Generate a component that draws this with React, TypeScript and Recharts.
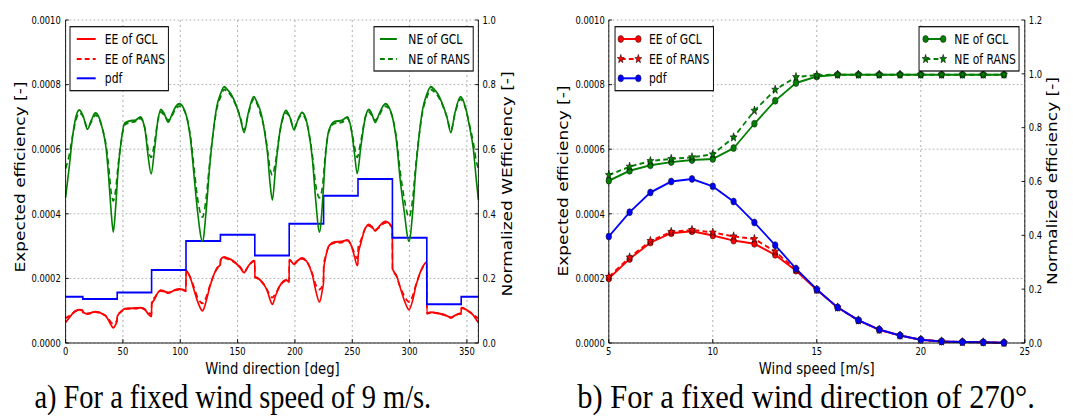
import React from "react";
import { CartesianGrid, Line, LineChart, XAxis, YAxis } from "recharts";

// ---- a) sweep over wind direction at 9 m/s ----
// EE values are in units of 1e-4, NE is normalized [0..1]

const DIR_TICKS = [0, 50, 100, 150, 200, 250, 300, 350];

const NE_GCL_DIR: [number, number][] = [
  [0, 0.45], [3, 0.54], [6.5, 0.65], [9, 0.7], [12, 0.721], [15.5, 0.7], [19, 0.662],
  [22.5, 0.69], [26, 0.712], [29, 0.7], [32, 0.665], [35.4, 0.6], [37.5, 0.516],
  [39.6, 0.413], [41.6, 0.344], [43.5, 0.413], [45.8, 0.536], [48.6, 0.629], [51.4, 0.68],
  [55.6, 0.687], [61, 0.69], [65.5, 0.7], [68, 0.68], [69.5, 0.655], [72, 0.577],
  [74.6, 0.524], [77.5, 0.598], [80.5, 0.69], [83, 0.723], [86, 0.71], [89.5, 0.684],
  [93, 0.71], [96, 0.732], [99.2, 0.741], [102.5, 0.73], [105.6, 0.7], [109.3, 0.62],
  [112.1, 0.515], [115, 0.41], [119.4, 0.315], [122.6, 0.41], [125.4, 0.536], [128.3, 0.64],
  [131.9, 0.733], [135, 0.77], [138.3, 0.793], [141, 0.785], [144.4, 0.77], [148, 0.743],
  [152.3, 0.696], [155.7, 0.652], [159.3, 0.712], [164.1, 0.762], [167, 0.745], [170.6, 0.71],
  [173.5, 0.655], [176, 0.59], [178.3, 0.494], [180.3, 0.443], [183, 0.536], [186.7, 0.65],
  [189.5, 0.7], [192.2, 0.72], [195.5, 0.7], [199.2, 0.66], [202.5, 0.69], [206.1, 0.714],
  [209, 0.7], [211.7, 0.66], [215.3, 0.567], [218.1, 0.443], [221.4, 0.344], [224.2, 0.443],
  [226.4, 0.567], [229.7, 0.66], [234.7, 0.686], [240.8, 0.689], [245.8, 0.7], [249.2, 0.66],
  [251.9, 0.588], [254.3, 0.525], [257.5, 0.608], [261.5, 0.7], [264.5, 0.723], [267, 0.71],
  [270, 0.683], [273.5, 0.71], [276.5, 0.732], [279, 0.741], [282, 0.73], [285, 0.7],
  [288.7, 0.62], [291.5, 0.515], [295.2, 0.41], [299.5, 0.315], [302.8, 0.41], [305.1, 0.525],
  [307.9, 0.63], [311.3, 0.722], [315, 0.77], [318.5, 0.793], [321.5, 0.785], [324.6, 0.771],
  [328.3, 0.743], [332.5, 0.7], [336, 0.652], [339.5, 0.712], [344.4, 0.762], [348.9, 0.727],
  [352.3, 0.67], [355.6, 0.6], [358.3, 0.5], [360, 0.443],
];

const NE_RANS_DIR: [number, number][] = [
  [0, 0.54], [3, 0.58], [6.5, 0.65], [9, 0.69], [12, 0.712], [15.5, 0.7], [19, 0.668],
  [22.5, 0.685], [26, 0.705], [29, 0.695], [32, 0.665], [35.4, 0.61], [37.5, 0.55],
  [39.6, 0.47], [41.6, 0.44], [43.5, 0.47], [45.8, 0.55], [48.6, 0.625], [51.4, 0.675],
  [55.6, 0.682], [61, 0.686], [65.5, 0.695], [68, 0.68], [69.5, 0.66], [72, 0.6],
  [74.6, 0.575], [77.5, 0.62], [80.5, 0.69], [83, 0.715], [86, 0.705], [89.5, 0.69],
  [93, 0.705], [96, 0.725], [99.2, 0.733], [102.5, 0.725], [105.6, 0.7], [109.3, 0.63],
  [112.1, 0.54], [115, 0.45], [119.4, 0.39], [122.6, 0.45], [125.4, 0.55], [128.3, 0.64],
  [131.9, 0.725], [135, 0.76], [138.3, 0.785], [141, 0.778], [144.4, 0.765], [148, 0.74],
  [152.3, 0.7], [155.7, 0.66], [159.3, 0.708], [164.1, 0.755], [167, 0.74], [170.6, 0.7],
  [173.5, 0.66], [176, 0.6], [178.3, 0.54], [180.3, 0.52], [183, 0.56], [186.7, 0.65],
  [189.5, 0.695], [192.2, 0.712], [195.5, 0.7], [199.2, 0.665], [202.5, 0.69], [206.1, 0.707],
  [209, 0.695], [211.7, 0.66], [215.3, 0.58], [218.1, 0.49], [221.4, 0.45], [224.2, 0.49],
  [226.4, 0.58], [229.7, 0.655], [234.7, 0.68], [240.8, 0.683], [245.8, 0.695], [249.2, 0.66],
  [251.9, 0.61], [254.3, 0.575], [257.5, 0.625], [261.5, 0.7], [264.5, 0.715], [267, 0.705],
  [270, 0.69], [273.5, 0.705], [276.5, 0.725], [279, 0.733], [282, 0.725], [285, 0.7],
  [288.7, 0.63], [291.5, 0.54], [295.2, 0.45], [299.5, 0.39], [302.8, 0.45], [305.1, 0.54],
  [307.9, 0.63], [311.3, 0.715], [315, 0.76], [318.5, 0.785], [321.5, 0.778], [324.6, 0.765],
  [328.3, 0.74], [332.5, 0.7], [336, 0.66], [339.5, 0.708], [344.4, 0.755], [348.9, 0.725],
  [352.3, 0.675], [355.6, 0.62], [358.3, 0.56], [360, 0.54],
];

const EE_GCL_DIR: [number, number][] = [
  [0, 0.64], [3, 0.77], [6.5, 0.93], [9, 1.0], [12, 1.03], [14.9, 1.01],
  [15.1, 0.96], [19, 0.9], [22.5, 0.94], [26, 0.97], [29, 0.95], [32, 0.9], [35.4, 0.82],
  [37.5, 0.7], [39.6, 0.56], [41.6, 0.47], [43.5, 0.56], [44.9, 0.68],
  [45.1, 0.82], [48.6, 0.98], [51.4, 1.06], [55.6, 1.07], [61, 1.08], [65.5, 1.09],
  [68, 1.06], [69.5, 1.02], [72, 0.9], [74.6, 0.82], [74.9, 0.85],
  [75.1, 1.2], [77.5, 1.35], [80.5, 1.56], [83, 1.63], [86, 1.6], [89.5, 1.55], [93, 1.6],
  [96, 1.65], [99.2, 1.67], [102.5, 1.65], [104.9, 1.62],
  [105.1, 2.25], [107, 2.15], [109.3, 1.96], [112.1, 1.63], [115, 1.3], [119.4, 1.0],
  [122.6, 1.3], [125.4, 1.69], [128.3, 2.02], [131.9, 2.32], [134.9, 2.43],
  [135.1, 2.58], [138.3, 2.66], [141, 2.63], [144.4, 2.58], [148, 2.49], [152.3, 2.33],
  [155.7, 2.18], [159.3, 2.38], [164.1, 2.55], [164.9, 2.53],
  [165.1, 2.05], [167, 2.02], [170.6, 1.92], [173.5, 1.78], [176, 1.6], [178.3, 1.34],
  [180.3, 1.2], [183, 1.45], [186.7, 1.76], [189.5, 1.9], [192.2, 1.95], [194.9, 1.9],
  [195.1, 2.58], [199.2, 2.44], [202.5, 2.55], [206.1, 2.63], [209, 2.58], [211.7, 2.44],
  [215.3, 2.09], [218.1, 1.63], [221.4, 1.27], [224.2, 1.7], [224.9, 1.85],
  [225.1, 2.28], [226.4, 2.58], [229.7, 3.01], [234.7, 3.13], [240.8, 3.14], [245.8, 3.19],
  [249.2, 3.01], [251.9, 2.68], [254.3, 2.4], [254.9, 2.45],
  [255.1, 2.7], [257.5, 3.09], [261.5, 3.56], [264.5, 3.67], [267, 3.61], [270, 3.47],
  [273.5, 3.61], [276.5, 3.72], [279, 3.76], [282, 3.71], [284.9, 3.56],
  [285.1, 2.3], [288.7, 2.08], [291.5, 1.75], [295.2, 1.34], [299.5, 1.03], [302.8, 1.34],
  [305.1, 1.71], [307.9, 2.05], [311.3, 2.35], [314.9, 2.5],
  [315.1, 0.92], [318.5, 0.95], [321.5, 0.94], [324.6, 0.92], [328.3, 0.89], [332.5, 0.84],
  [336, 0.78], [339.5, 0.85], [344.4, 0.91], [344.9, 0.91],
  [345.1, 1.09], [348.9, 1.04], [352.3, 0.96], [355.6, 0.86], [358.3, 0.72], [360, 0.63],
];

const EE_RANS_DIR: [number, number][] = [
  [0, 0.77], [3, 0.83], [6.5, 0.93], [9, 0.99], [12, 1.02], [14.9, 1.0],
  [15.1, 0.95], [19, 0.91], [22.5, 0.93], [26, 0.96], [29, 0.945], [32, 0.905], [35.4, 0.83],
  [37.5, 0.75], [39.6, 0.64], [41.6, 0.6], [43.5, 0.64], [44.9, 0.72],
  [45.1, 0.84], [48.6, 0.975], [51.4, 1.05], [55.6, 1.065], [61, 1.07], [65.5, 1.085],
  [68, 1.06], [69.5, 1.03], [72, 0.94], [74.6, 0.9], [74.9, 0.91],
  [75.1, 1.32], [77.5, 1.4], [80.5, 1.56], [83, 1.62], [86, 1.59], [89.5, 1.56], [93, 1.59],
  [96, 1.64], [99.2, 1.66], [102.5, 1.64], [104.9, 1.6],
  [105.1, 2.24], [107, 2.15], [109.3, 1.99], [112.1, 1.71], [115, 1.42], [119.4, 1.23],
  [122.6, 1.42], [125.4, 1.74], [128.3, 2.02], [131.9, 2.29], [134.9, 2.4],
  [135.1, 2.55], [138.3, 2.63], [141, 2.61], [144.4, 2.56], [148, 2.48], [152.3, 2.35],
  [155.7, 2.21], [159.3, 2.37], [164.1, 2.53], [164.9, 2.51],
  [165.1, 2.04], [167, 2.01], [170.6, 1.9], [173.5, 1.79], [176, 1.63], [178.3, 1.46],
  [180.3, 1.41], [183, 1.52], [186.7, 1.76], [189.5, 1.88], [192.2, 1.93], [194.9, 1.89],
  [195.1, 2.58], [199.2, 2.45], [202.5, 2.55], [206.1, 2.61], [209, 2.56], [211.7, 2.44],
  [215.3, 2.14], [218.1, 1.81], [221.4, 1.66], [224.2, 1.81], [224.9, 1.95],
  [225.1, 2.45], [226.4, 2.64], [229.7, 2.99], [234.7, 3.1], [240.8, 3.11], [245.8, 3.17],
  [249.2, 3.01], [251.9, 2.78], [254.3, 2.62], [254.9, 2.65],
  [255.1, 2.95], [257.5, 3.18], [261.5, 3.56], [264.5, 3.63], [267, 3.58], [270, 3.51],
  [273.5, 3.58], [276.5, 3.68], [279, 3.72], [282, 3.68], [284.9, 3.56],
  [285.1, 2.3], [288.7, 2.05], [291.5, 1.76], [295.2, 1.47], [299.5, 1.27], [302.8, 1.47],
  [305.1, 1.76], [307.9, 2.05], [311.3, 2.33], [314.9, 2.47],
  [315.1, 0.91], [318.5, 0.94], [321.5, 0.935], [324.6, 0.92], [328.3, 0.89], [332.5, 0.84],
  [336, 0.79], [339.5, 0.85], [344.4, 0.91], [344.9, 0.9],
  [345.1, 1.08], [348.9, 1.04], [352.3, 0.965], [355.6, 0.89], [358.3, 0.8], [360, 0.77],
];

// 30 deg bins centred on 0, 30, 60 ...
const PDF_DIR: [number, number][] = [
  [0, 1.43], [15, 1.36], [45, 1.56], [75, 2.26], [105, 3.16], [135, 3.35], [165, 2.71],
  [195, 3.69], [225, 4.56], [255, 5.08], [285, 3.26], [315, 1.2], [345, 1.43], [360, 1.43],
];

// ---- b) sweep over wind speed at 270 deg ----
const WIND_SPEED = [5, 6, 7, 8, 9, 10, 11, 12, 13, 14, 15, 16, 17, 18, 19, 20, 21, 22, 23, 24];
const WS_TICKS = [5, 10, 15, 20, 25];
const EE_GCL_WS = [2.0, 2.6, 3.11, 3.4, 3.46, 3.33, 3.17, 3.07, 2.73, 2.24, 1.64, 1.1, 0.7, 0.41, 0.23, 0.1, 0.05, 0.03, 0.02, 0.005];
const EE_RANS_WS = [2.05, 2.65, 3.16, 3.44, 3.5, 3.42, 3.3, 3.22, 2.83, 2.28, 1.65, 1.1, 0.7, 0.41, 0.23, 0.1, 0.05, 0.03, 0.02, 0.005];
const PDF_WS = [3.3, 4.05, 4.66, 5.0, 5.08, 4.85, 4.38, 3.73, 3.03, 2.3, 1.66, 1.1, 0.705, 0.415, 0.23, 0.104, 0.05, 0.03, 0.02, 0.005];
const NE_GCL_WS = [0.603, 0.64, 0.66, 0.672, 0.68, 0.684, 0.724, 0.815, 0.9, 0.966, 0.99, 0.997, 0.997, 0.997, 0.997, 0.997, 0.997, 0.997, 0.997, 0.997];
const NE_RANS_WS = [0.624, 0.655, 0.676, 0.684, 0.69, 0.701, 0.764, 0.863, 0.941, 0.988, 0.995, 0.997, 0.997, 0.997, 0.997, 0.997, 0.997, 0.997, 0.997, 0.997];

const EE_TICKS = [0, 2, 4, 6, 8, 10];
const NE_TICKS_A = [0, 0.2, 0.4, 0.6, 0.8, 1.0];
const NE_TICKS_B = [0, 0.2, 0.4, 0.6, 0.8, 1.0, 1.2];

const RED = "#ff0000";
const BLUE = "#0000ff";
const GREEN = "#008000";
const SANS = "DejaVu Sans";
// whole figure is drawn wide and then squeezed horizontally
const SQUEEZE = 0.8;

const pairs = (arr: [number, number][]) => arr.map(([x, y]) => ({ x, y }));
const byWs = (vals: number[]) => WIND_SPEED.map((x, i) => ({ x, y: vals[i] }));

const eeFmt = (v: number) => (v / 10000).toFixed(4);
const neFmt = (v: number) => v.toFixed(1);
const tickStyle = { fontSize: 10.5, fill: "#000", fontFamily: SANS };

const starPath = (cx: number, cy: number, R = 4.6, r = 1.9) => {
  let d = "";
  for (let i = 0; i < 10; i++) {
    const a = -Math.PI / 2 + (i * Math.PI) / 5;
    const rad = i % 2 === 0 ? R : r;
    d += (i === 0 ? "M" : "L") + (cx + rad * Math.cos(a)).toFixed(2) + "," + (cy + rad * Math.sin(a)).toFixed(2);
  }
  return d + "Z";
};

const starDot = (color: string) => (props: any) => {
  if (props.cx == null || props.cy == null) return <g key={`n-${props.index}`} />;
  return <path key={`s-${props.index}`} d={starPath(props.cx, props.cy)} fill={color} stroke="#000" strokeWidth={0.6} />;
};

const circleDot = (color: string) => ({ r: 3.5, fill: color, stroke: "#1a1a1a", strokeWidth: 0.6, strokeDasharray: "" });

type LegendRow = { label: string; color: string; dash?: boolean; marker?: "circle" | "star" };

function LegendBox({ x, y, w, rows, sample, textX, marked }: { x: number; y: number; w: number; rows: LegendRow[]; sample: [number, number]; textX: number; marked: boolean }) {
  const rowY = [39, 59, 78.3];
  const h = rows.length === 3 ? 64 : 44.3;
  return (
    <g>
      <rect x={x} y={y} width={w} height={h} fill="#fff" stroke="#000" strokeWidth={1.2} />
      {rows.map((r, i) => (
        <g key={r.label}>
          <line x1={sample[0]} x2={sample[1]} y1={rowY[i]} y2={rowY[i]} stroke={r.color} strokeWidth={2} strokeDasharray={r.dash ? "6 4" : undefined} />
          {marked && r.marker === "circle" && (
            <>
              <circle cx={sample[0]} cy={rowY[i]} r={3.5} fill={r.color} stroke="#1a1a1a" strokeWidth={0.6} />
              <circle cx={sample[1]} cy={rowY[i]} r={3.5} fill={r.color} stroke="#1a1a1a" strokeWidth={0.6} />
            </>
          )}
          {marked && r.marker === "star" && (
            <>
              <path d={starPath(sample[0], rowY[i])} fill={r.color} stroke="#000" strokeWidth={0.6} />
              <path d={starPath(sample[1], rowY[i])} fill={r.color} stroke="#000" strokeWidth={0.6} />
            </>
          )}
          <text x={textX} y={rowY[i]} dy="0.36em" fontFamily={SANS} fontSize={13.5} fill="#000">
            {r.label}
          </text>
        </g>
      ))}
    </g>
  );
}

function VLabel({ x, y, text }: { x: number; y: number; text: string }) {
  return (
    <text transform={`translate(${x},${y}) rotate(-90)`} textAnchor="middle" fontFamily={SANS} fontSize={17} fill="#000">
      {text}
    </text>
  );
}

function DirectionChart() {
  return (
    <LineChart width={670} height={380} margin={{ top: 20, right: 0, bottom: 0, left: 0 }}>
      <CartesianGrid xAxisId="b" yAxisId="l" stroke="#999" strokeDasharray="2 3" strokeWidth={0.9} />
      <XAxis xAxisId="b" dataKey="x" type="number" domain={[0, 360]} ticks={DIR_TICKS} height={37}
        axisLine={{ stroke: "#000" }} tickLine={{ stroke: "#000" }} tickSize={-4} tickMargin={9} tick={tickStyle} />
      <XAxis xAxisId="t" orientation="top" dataKey="x" type="number" domain={[0, 360]} ticks={DIR_TICKS} height={0}
        axisLine={{ stroke: "#000" }} tickLine={{ stroke: "#000" }} tickSize={-4} tick={false} />
      <YAxis yAxisId="l" domain={[0, 10]} ticks={EE_TICKS} width={82} tickFormatter={eeFmt}
        axisLine={{ stroke: "#000" }} tickLine={{ stroke: "#000" }} tickSize={-4} tickMargin={10} tick={tickStyle} />
      <YAxis yAxisId="r" orientation="right" domain={[0, 1]} ticks={NE_TICKS_A} width={72} tickFormatter={neFmt}
        axisLine={{ stroke: "#000" }} tickLine={{ stroke: "#000" }} tickSize={-4} tickMargin={9} tick={tickStyle} />
      <Line xAxisId="b" yAxisId="l" data={pairs(EE_GCL_DIR)} dataKey="y" type="monotone" stroke={RED} strokeWidth={2} dot={false} activeDot={false} isAnimationActive={false} />
      <Line xAxisId="b" yAxisId="l" data={pairs(EE_RANS_DIR)} dataKey="y" type="monotone" stroke={RED} strokeWidth={2} strokeDasharray="6 4" dot={false} activeDot={false} isAnimationActive={false} />
      <Line xAxisId="b" yAxisId="l" data={pairs(PDF_DIR)} dataKey="y" type="stepAfter" stroke={BLUE} strokeWidth={2} dot={false} activeDot={false} isAnimationActive={false} />
      <Line xAxisId="b" yAxisId="r" data={pairs(NE_GCL_DIR)} dataKey="y" type="monotone" stroke={GREEN} strokeWidth={2} dot={false} activeDot={false} isAnimationActive={false} />
      <Line xAxisId="b" yAxisId="r" data={pairs(NE_RANS_DIR)} dataKey="y" type="monotone" stroke={GREEN} strokeWidth={2} strokeDasharray="6 4" dot={false} activeDot={false} isAnimationActive={false} />
    </LineChart>
  );
}

function SpeedChart() {
  return (
    <LineChart width={671} height={380} margin={{ top: 20, right: 0, bottom: 0, left: 0 }}>
      <CartesianGrid xAxisId="b" yAxisId="l" stroke="#999" strokeDasharray="2 3" strokeWidth={0.9} />
      <XAxis xAxisId="b" dataKey="x" type="number" domain={[5, 25]} ticks={WS_TICKS} height={37}
        axisLine={{ stroke: "#000" }} tickLine={{ stroke: "#000" }} tickSize={-4} tickMargin={9} tick={tickStyle} />
      <XAxis xAxisId="t" orientation="top" dataKey="x" type="number" domain={[5, 25]} ticks={WS_TICKS} height={0}
        axisLine={{ stroke: "#000" }} tickLine={{ stroke: "#000" }} tickSize={-4} tick={false} />
      <YAxis yAxisId="l" domain={[0, 10]} ticks={EE_TICKS} width={91} tickFormatter={eeFmt}
        axisLine={{ stroke: "#000" }} tickLine={{ stroke: "#000" }} tickSize={-4} tickMargin={9} tick={tickStyle} />
      <YAxis yAxisId="r" orientation="right" domain={[0, 1.2]} ticks={NE_TICKS_B} width={60} tickFormatter={neFmt}
        axisLine={{ stroke: "#000" }} tickLine={{ stroke: "#000" }} tickSize={-4} tickMargin={9} tick={tickStyle} />
      <Line xAxisId="b" yAxisId="l" data={byWs(EE_GCL_WS)} dataKey="y" type="linear" stroke={RED} strokeWidth={2} dot={circleDot(RED)} activeDot={false} isAnimationActive={false} />
      <Line xAxisId="b" yAxisId="l" data={byWs(EE_RANS_WS)} dataKey="y" type="linear" stroke={RED} strokeWidth={2} strokeDasharray="6 4" dot={starDot(RED)} activeDot={false} isAnimationActive={false} />
      <Line xAxisId="b" yAxisId="l" data={byWs(PDF_WS)} dataKey="y" type="linear" stroke={BLUE} strokeWidth={2} dot={circleDot(BLUE)} activeDot={false} isAnimationActive={false} />
      <Line xAxisId="b" yAxisId="r" data={byWs(NE_GCL_WS)} dataKey="y" type="linear" stroke={GREEN} strokeWidth={2} dot={circleDot(GREEN)} activeDot={false} isAnimationActive={false} />
      <Line xAxisId="b" yAxisId="r" data={byWs(NE_RANS_WS)} dataKey="y" type="linear" stroke={GREEN} strokeWidth={2} strokeDasharray="6 4" dot={starDot(GREEN)} activeDot={false} isAnimationActive={false} />
    </LineChart>
  );
}

export default function App() {
  const W = 1073 / SQUEEZE;
  return (
    <div style={{ position: "absolute", left: 0, top: 0, width: 1073, height: 416, overflow: "hidden", background: "#fff" }}>
      <div style={{ position: "absolute", left: 0, top: 0, width: W, height: 416, transform: `scaleX(${SQUEEZE})`, transformOrigin: "0 0" }}>
        <div style={{ position: "absolute", left: 0, top: 0 }}>
          <DirectionChart />
        </div>
        <div style={{ position: "absolute", left: 670, top: 0 }}>
          <SpeedChart />
        </div>
        <svg width={W} height={416} style={{ position: "absolute", left: 0, top: 0, pointerEvents: "none" }}>
          <LegendBox x={87.5} y={26.7} w={123} sample={[95.9, 119.6]} textX={131} marked={false}
            rows={[{ label: "EE of GCL", color: RED }, { label: "EE of RANS", color: RED, dash: true }, { label: "pdf", color: BLUE }]} />
          <LegendBox x={467.5} y={26.7} w={124} sample={[475, 496]} textX={510.4} marked={false}
            rows={[{ label: "NE of GCL", color: GREEN }, { label: "NE of RANS", color: GREEN, dash: true }]} />
          <LegendBox x={768.8} y={26.7} w={123} sample={[776, 797.9]} textX={811.2} marked
            rows={[{ label: "EE of GCL", color: RED, marker: "circle" }, { label: "EE of RANS", color: RED, dash: true, marker: "star" }, { label: "pdf", color: BLUE, marker: "circle" }]} />
          <LegendBox x={1148.8} y={26.7} w={125} sample={[1157, 1179]} textX={1192.9} marked
            rows={[{ label: "NE of GCL", color: GREEN, marker: "circle" }, { label: "NE of RANS", color: GREEN, dash: true, marker: "star" }]} />

          <VLabel x={31.5} y={177} text="Expected efficiency [-]" />
          <VLabel x={640} y={184} text="Normalized WEfficiency [-]" />
          <VLabel x={710} y={181} text="Expected efficiency [-]" />
          <VLabel x={1321} y={181} text="Normalized efficiency [-]" />

          <text x={340.6} y={374.5} textAnchor="middle" fontFamily={SANS} fontSize={16.5} fill="#000">Wind direction [deg]</text>
          <text x={1021} y={374.5} textAnchor="middle" fontFamily={SANS} fontSize={16.5} fill="#000">Wind speed [m/s]</text>

          <text x={291} y={408} textAnchor="middle" fontFamily="Liberation Serif" fontSize={33} textLength={496} lengthAdjust="spacingAndGlyphs" fill="#000">a) For a fixed wind speed of 9 m/s.</text>
          <text x={1007.5} y={408} textAnchor="middle" fontFamily="Liberation Serif" fontSize={33} textLength={572} lengthAdjust="spacingAndGlyphs" fill="#000">b) For a fixed wind direction of 270°.</text>
        </svg>
      </div>
    </div>
  );
}
